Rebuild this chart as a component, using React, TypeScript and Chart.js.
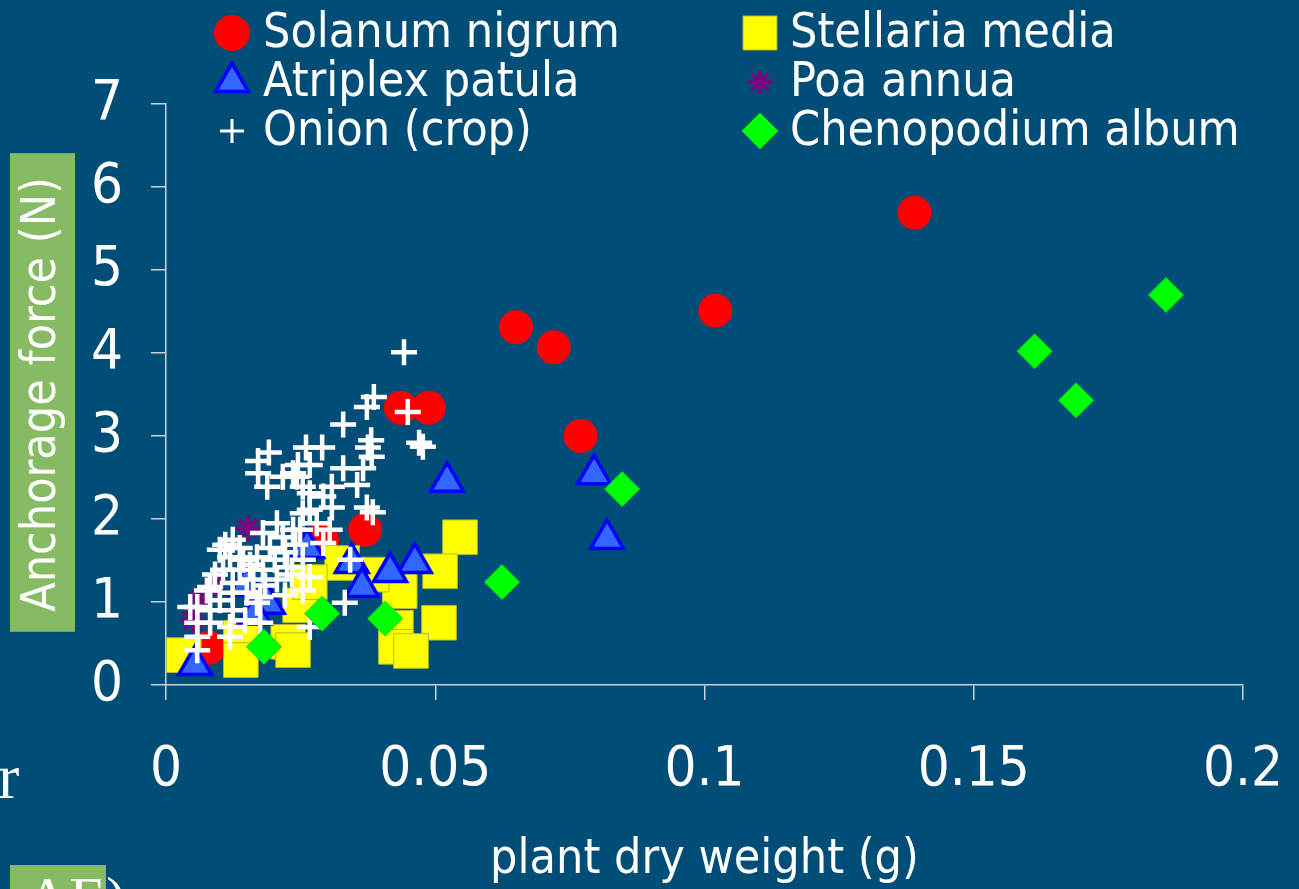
import React, { useEffect, useRef } from "react";
import { Chart, registerables } from "chart.js";
import { drawPoint } from "chart.js/helpers";

Chart.register(...registerables);

const seriesNames = ["Solanum nigrum", "Stellaria media", "Atriplex patula", "Poa annua", "Onion (crop)", "Chenopodium album"];

const solanumX = [0.139, 0.102, 0.065, 0.072, 0.077, 0.0436, 0.0488, 0.037, 0.029, 0.008];
const solanumY = [5.69, 4.51, 4.31, 4.07, 3.0, 3.34, 3.34, 1.87, 1.75, 0.45];

const stellariaX = [0.0546, 0.0509, 0.0507, 0.0427, 0.0427, 0.0455, 0.0434, 0.0382, 0.0327, 0.0249, 0.0227, 0.0236, 0.0139, 0.0139, 0.0033, 0.0267];
const stellariaY = [1.78, 1.37, 0.75, 0.69, 0.46, 0.41, 1.13, 1.33, 1.47, 0.96, 0.52, 0.42, 0.57, 0.3, 0.36, 1.24];

const atriplexX = [0.0522, 0.0795, 0.0819, 0.0462, 0.0416, 0.0345, 0.0364, 0.0262, 0.0189, 0.0164, 0.0054, 0.0148];
const atriplexY = [2.45, 2.54, 1.76, 1.47, 1.36, 1.47, 1.18, 1.65, 0.98, 0.85, 0.24, 1.2];

const poaX = [0.0152, 0.0091, 0.0063, 0.005];
const poaY = [1.89, 1.23, 1.02, 0.78];

const onionX = [
  0.0442, 0.0449, 0.0386, 0.0373, 0.0329, 0.0477, 0.047, 0.0381, 0.0375, 0.0382,
  0.029, 0.026, 0.0191, 0.0171, 0.0171, 0.0245, 0.0236, 0.0267, 0.0329, 0.0366,
  0.0355, 0.0373, 0.0384, 0.0308, 0.0292, 0.0308, 0.0267, 0.0254, 0.0243, 0.0217,
  0.028, 0.0304, 0.0292, 0.0342, 0.0332, 0.0206, 0.018, 0.0217, 0.0236, 0.0254,
  0.0267, 0.0188, 0.0124, 0.01, 0.0119, 0.0143, 0.0169, 0.0106, 0.0137, 0.018,
  0.0225, 0.0254, 0.0267, 0.0082, 0.0124, 0.0162, 0.0206, 0.0076, 0.015, 0.0175,
  0.0254, 0.0058, 0.0082, 0.0124, 0.0169, 0.0058, 0.0082, 0.0119, 0.0175, 0.0058,
  0.0119, 0.0058, 0.0267, 0.0045, 0.0124, 0.011, 0.0137, 0.0193, 0.0221, 0.024,
  0.0156, 0.0202, 0.0234, 0.0184, 0.01, 0.0221, 0.0147, 0.0091, 0.0249,
];
const onionY = [
  4.01, 3.29, 3.47, 3.35, 3.14, 2.87, 2.92, 2.95, 2.86, 2.75,
  2.86, 2.86, 2.8, 2.7, 2.55, 2.65, 2.55, 2.65, 2.61, 2.61,
  2.41, 2.14, 2.08, 2.39, 2.27, 2.14, 2.11, 2.39, 2.51, 2.51,
  1.95, 1.87, 1.71, 1.51, 0.99, 1.95, 1.83, 1.78, 1.87, 2.07,
  2.31, 2.39, 1.75, 1.63, 1.54, 1.51, 1.54, 1.39, 1.39, 1.39,
  1.42, 1.51, 1.3, 1.18, 1.23, 1.27, 1.27, 1.14, 1.11, 1.06,
  1.14, 0.94, 0.9, 0.9, 0.99, 0.75, 0.75, 0.7, 0.75, 0.58,
  0.58, 0.42, 0.7, 0.94, 1.11, 1.69, 1.65, 1.65, 1.6, 1.69,
  1.45, 1.51, 1.33, 1.2, 1.02, 1.08, 0.78, 1.33, 1.87,
];

const chenopodiumX = [0.1857, 0.1613, 0.169, 0.0847, 0.0624, 0.0407, 0.029, 0.0182];
const chenopodiumY = [4.7, 4.02, 3.43, 2.36, 1.24, 0.8, 0.86, 0.46];

const xTicks = [0, 0.05, 0.1, 0.15, 0.2];
const xTickLabels = ["0", "0.05", "0.1", "0.15", "0.2"];
const yTicks = [0, 1, 2, 3, 4, 5, 6, 7];
const yTickLabels = ["0", "1", "2", "3", "4", "5", "6", "7"];

const xTitle = "plant dry weight (g)";
const yTitle = "Anchorage force (N)";

const FONT = "'Liberation Sans Narrow', 'DejaVu Sans Condensed', 'Arial Narrow', sans-serif";
const BG = "#004d78";
const AXIS = "#c9d3dc";
const TITLE_BOX = "#86bb64";

const styles = [
  { pointStyle: "circle", radius: 17, backgroundColor: "#ff0000", borderColor: "#ff0000", borderWidth: 0, legendRadius: 18, legendBorder: 0 },
  { pointStyle: "rect", radius: 24.5, backgroundColor: "#ffff00", borderColor: "#b5b53a", borderWidth: 1, legendRadius: 24, legendBorder: 1 },
  { pointStyle: "triangle", radius: 19, backgroundColor: "#3366ff", borderColor: "#0000ff", borderWidth: 3.5, legendRadius: 19, legendBorder: 3.5 },
  { pointStyle: "star", radius: 12.5, backgroundColor: "#7f007f", borderColor: "#7f007f", borderWidth: 4, legendRadius: 12, legendBorder: 3.5 },
  { pointStyle: "cross", radius: 13, backgroundColor: "#ffffff", borderColor: "#ffffff", borderWidth: 4.5, legendRadius: 12, legendBorder: 3 },
  { pointStyle: "rectRot", radius: 17.5, backgroundColor: "#00ff00", borderColor: "#00e000", borderWidth: 1, legendRadius: 18, legendBorder: 1 },
];

const seriesX = [solanumX, stellariaX, atriplexX, poaX, onionX, chenopodiumX];
const seriesY = [solanumY, stellariaY, atriplexY, poaY, onionY, chenopodiumY];

const toPoints = (xs: number[], ys: number[]) => xs.map((x, i) => ({ x, y: ys[i] }));

const legendPlugin = {
  id: "gridLegend",
  afterDraw(chart: any) {
    const ctx = chart.ctx;
    const colMarker = [232, 760];
    const colText = [263, 790];
    const rowY = [33, 82, 131];
    ctx.save();
    seriesNames.forEach((name, i) => {
      const col = i % 2;
      const row = Math.floor(i / 2);
      const st = styles[i];
      ctx.fillStyle = st.backgroundColor;
      ctx.strokeStyle = st.borderColor;
      ctx.lineWidth = st.legendBorder;
      drawPoint(ctx, { pointStyle: st.pointStyle as any, radius: st.legendRadius, rotation: 0, borderWidth: st.legendBorder }, colMarker[col], rowY[row]);
      ctx.fillStyle = "#ffffff";
      ctx.font = `48px ${FONT}`;
      ctx.textAlign = "left";
      ctx.textBaseline = "middle";
      ctx.fillText(name, colText[col], rowY[row] + 2);
    });
    ctx.restore();
  },
};

const titleBoxPlugin = {
  id: "titleBox",
  beforeDraw(chart: any) {
    const ctx = chart.ctx;
    const y = chart.scales.y;
    const cy = (y.top + y.bottom) / 2;
    ctx.save();
    ctx.font = `48px ${FONT}`;
    const w = ctx.measureText(yTitle).width;
    ctx.fillStyle = TITLE_BOX;
    ctx.fillRect(10, cy - w / 2 - 24, 65, w + 44);
    ctx.restore();
  },
};

export default function App() {
  const ref = useRef<HTMLCanvasElement>(null);
  useEffect(() => {
    const chart = new Chart(ref.current as HTMLCanvasElement, {
      type: "scatter",
      data: {
        datasets: seriesNames.map((name, i) => ({
          label: name,
          data: toPoints(seriesX[i], seriesY[i]),
          pointStyle: styles[i].pointStyle as any,
          pointRadius: styles[i].radius,
          pointHoverRadius: styles[i].radius,
          pointBackgroundColor: styles[i].backgroundColor,
          pointBorderColor: styles[i].borderColor,
          pointBorderWidth: styles[i].borderWidth,
          backgroundColor: styles[i].backgroundColor,
          borderColor: styles[i].borderColor,
          showLine: false,
          order: 6 - i,
        })),
      },
      options: {
        animation: false,
        responsive: false,
        devicePixelRatio: 1,
        layout: { padding: { top: 104, right: 56, left: 0, bottom: 0 } },
        plugins: { legend: { display: false }, tooltip: { enabled: false } },
        scales: {
          x: {
            type: "linear",
            min: 0,
            max: 0.2,
            afterFit: (s: any) => { s.height = 204; s.paddingLeft = 0; s.paddingRight = 0; },
            afterBuildTicks: (s: any) => { s.ticks = xTicks.map((v) => ({ value: v })); },
            ticks: {
              color: "#ffffff",
              font: { family: FONT, size: 56 },
              padding: 37,
              maxRotation: 0,
              callback: (_v: any, i: number) => xTickLabels[i],
            },
            grid: { drawOnChartArea: false, drawTicks: true, tickLength: 15, color: AXIS, lineWidth: 1.5 },
            border: { display: true, color: AXIS, width: 1.5 },
            title: { display: true, text: xTitle, color: "#ffffff", font: { family: FONT, size: 48 }, padding: { top: 0, bottom: 0 } },
          },
          y: {
            type: "linear",
            min: 0,
            max: 7,
            afterFit: (s: any) => { s.width = 166; s.paddingTop = 0; s.paddingBottom = 0; },
            afterBuildTicks: (s: any) => { s.ticks = yTicks.map((v) => ({ value: v })); },
            ticks: {
              color: "#ffffff",
              font: { family: FONT, size: 56 },
              padding: 28,
              callback: (_v: any, i: number) => yTickLabels[i],
            },
            grid: { drawOnChartArea: false, drawTicks: true, tickLength: 15, color: AXIS, lineWidth: 1.5 },
            border: { display: true, color: AXIS, width: 1.5 },
            title: { display: true, text: yTitle, color: "#ffffff", font: { family: FONT, size: 48 }, padding: { top: 14, bottom: 0 } },
          },
        },
      } as any,
      plugins: [titleBoxPlugin, legendPlugin],
    });
    return () => chart.destroy();
  }, []);

  return (
    <div style={{ position: "absolute", left: 0, top: 0, width: 1299, height: 889, background: BG, overflow: "hidden" }}>
      <canvas ref={ref} width={1299} height={889} style={{ display: "block", width: 1299, height: 889 }} />
      <div style={{ position: "absolute", left: -2, top: 745, color: "#ffffff", font: "64px 'Liberation Serif', serif", lineHeight: "64px" }}>r</div>
      <div style={{ position: "absolute", left: 10, top: 868, color: "#ffffff", font: "60px 'Liberation Serif', serif", lineHeight: "60px", whiteSpace: "nowrap" }}>
        <span style={{ background: TITLE_BOX, paddingLeft: 16 }}>AE</span>)
      </div>
    </div>
  );
}
